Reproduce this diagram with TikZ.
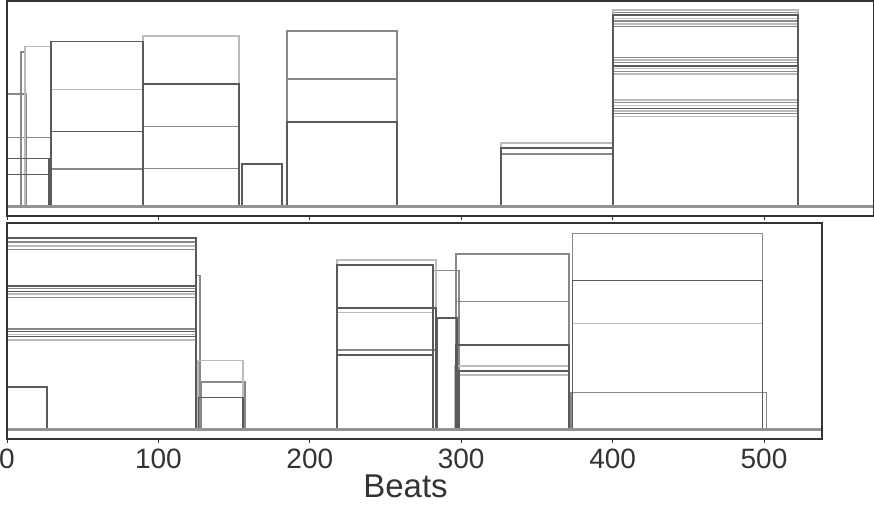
\documentclass[tikz,border=0pt]{standalone}
\usepackage{fontspec}
\setmainfont{Liberation Sans}
\definecolor{bardark}{HTML}{5A5A5A}
\definecolor{barmid}{HTML}{888888}
\definecolor{barlight}{HTML}{BBBBBB}
\definecolor{axisgray}{HTML}{333333}
\tikzset{
    bar dark/.style={draw=bardark, line width=1.5pt},
    bar mid/.style={draw=barmid, line width=1.5pt},
    bar light/.style={draw=barlight, line width=1.5pt},
    panel/.style={draw=axisgray, line width=1.4pt},
    base line/.style={draw=gray!85, line width=3pt},
    beat tick/.style={draw=axisgray, line width=1pt},
    beat label/.style={anchor=base, text=axisgray, font=\fontsize{28}{28}\selectfont},
}

\begin{document}
\begin{tikzpicture}[x=1.514pt, y=1pt]
\useasboundingbox (-7pt,0pt) rectangle (867pt,504pt);
\begin{scope}[yshift=298pt]
\foreach \a/\b/\h in {0/13/112, 0/28.9/68.3, 9.2/11.6/154, 28.9/89.8/37, 89.8/153.2/79.3, 89.8/153.2/37.7, 185/257.6/175, 185/257.6/127, 326.3/400.3/52, 400.3/522.5/193.5, 400.3/522.5/185, 400.3/522.5/179.3, 400.3/522.5/148.7, 400.3/522.5/143.3, 400.3/522.5/134.7, 400.3/522.5/103.3, 400.3/522.5/92.3}
    \draw[bar mid] (\a,0) rectangle (\b,\h);
\foreach \a/\b/\h in {11.9/28.9/159.3, 28.9/89.8/116.7, 89.8/153.2/170, 326.3/400.3/63, 400.3/522.5/196, 400.3/522.5/187.7, 400.3/522.5/182, 400.3/522.5/146, 400.3/522.5/137.3, 400.3/522.5/132, 400.3/522.5/106, 400.3/522.5/100.7, 400.3/522.5/95, 400.3/522.5/89.3}
    \draw[bar light] (\a,0) rectangle (\b,\h);
\foreach \a/\b/\h in {0/27.9/47.7, 0/28.9/31.7, 28.9/89.8/164.3, 28.9/89.8/74.3, 89.8/153.2/122, 155.2/181.6/42, 185/257.6/84, 326.3/400.3/58, 400.3/522.5/191, 400.3/522.5/140, 400.3/522.5/97.7}
    \draw[bar dark] (\a,0) rectangle (\b,\h);
\draw[base line] (0,0) -- (572.4,0);
\foreach \t in {0,100,...,500}
    \draw[beat tick] (\t,-10) -- (\t,-14);
\draw[panel] (0,-10) rectangle (572.4,205);
\end{scope}
\begin{scope}[yshift=74.5pt]
\foreach \a/\b/\h in {0/124.8/187.5, 0/124.8/180.2, 0/124.8/141.2, 0/124.8/132.2, 0/124.8/100.5, 124.8/127.5/153.8, 128/157.2/47.5, 218/283.4/79.5, 281.4/298.5/158.8, 296.6/371.2/175.5, 296.6/371.2/127.8, 373.6/499.1/196.2, 372.5/501.8/37.2}
    \draw[bar mid] (\a,0) rectangle (\b,\h);
\foreach \a/\b/\h in {0/124.8/183.5, 0/124.8/135.5, 0/124.8/95.2, 0/124.8/89.5, 126/156/69.2, 218/283.4/169.5, 218/281.4/116.8, 296/371.2/63.5, 298.5/371.2/54.5, 373.6/499.1/106.2}
    \draw[bar light] (\a,0) rectangle (\b,\h);
\foreach \a/\b/\h in {0/124.8/191.5, 0/124.8/143.5, 0/124.8/137.8, 0/124.8/97.8, 0/124.8/92.8, 0/26.4/42.5, 126.4/156/31.8, 218/281.4/164.5, 218/283.4/121.5, 218/281.4/74.5, 284/297.2/111.5, 296.6/371.2/84.5, 298.5/371.2/58.5, 373.6/499.1/148.8}
    \draw[bar dark] (\a,0) rectangle (\b,\h);
\draw[base line] (0,0) -- (538.3,0);
\foreach \t in {0,100,...,500} {
    \draw[beat tick] (\t,-9.5) -- (\t,-13.5);
    \node[beat label] (beat\t) at (\t,-38.5) {\t};
}
\draw[panel] (0,-9.5) rectangle (538.3,206.5);
\node[anchor=base, text=axisgray, font=\fontsize{33}{33}\selectfont] (xlabel) at (263.2,-67.5) {Beats};
\end{scope}
\end{tikzpicture}
\end{document}
